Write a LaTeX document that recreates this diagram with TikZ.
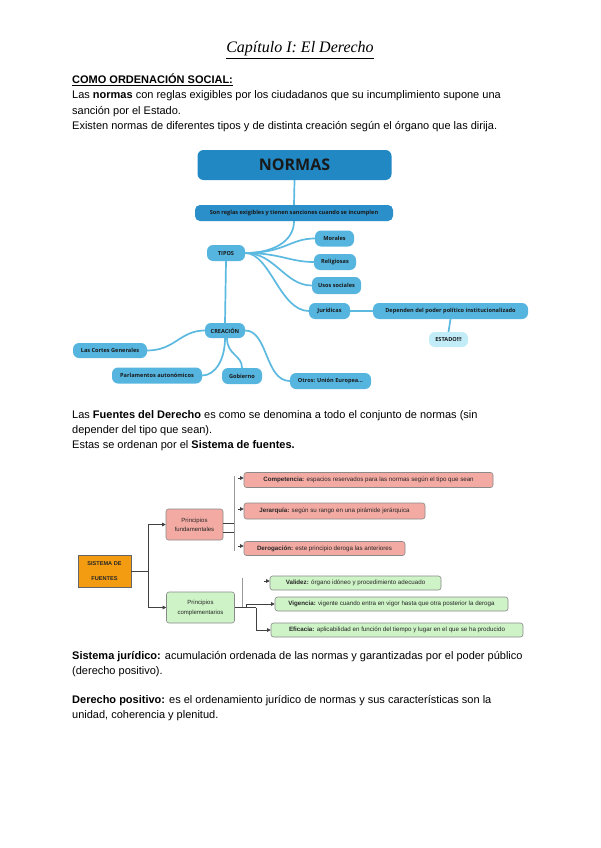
\documentclass[tikz,border=0pt]{standalone}
\usepackage{fontspec}
\setmainfont{Liberation Sans}
\newfontfamily\mmfont{Open Sans}
\newfontfamily\titlefont{Liberation Serif}
\usetikzlibrary{arrows.meta,backgrounds}
\definecolor{mdark}{HTML}{2288C4}
\definecolor{msub}{HTML}{2B8FCA}
\definecolor{mlight}{HTML}{55B5DF}
\definecolor{mpale}{HTML}{C2ECF8}
\definecolor{mline}{HTML}{5CB9E0}
\definecolor{salmon}{HTML}{F3AAA3}
\definecolor{mint}{HTML}{CDF3C6}
\definecolor{orng}{HTML}{F39C12}
\definecolor{bordgray}{HTML}{8A8A8A}
\tikzset{
  body/.style={anchor=base west, inner sep=0pt, font=\fontsize{11}{15}\selectfont},
  mmbox/.style={rounded corners=6pt, fill=mlight, inner sep=0pt, text=black!90,
    font=\mmfont\bfseries\fontsize{5.6}{6.5}\selectfont},
  conn/.style={draw=mline, line width=1.7pt, line cap=round},
  fbox/.style={rounded corners=2.5pt, draw=bordgray, line width=0.6pt, inner sep=0pt,
    font=\fontsize{6.2}{7.5}\selectfont, text=black!85},
  fline/.style={draw=black!75, line width=0.6pt},
  bline/.style={draw=black!40, line width=0.8pt},
  farrow/.style={fline, -{Triangle[length=3.5pt,width=3.5pt]}},
}
\begin{document}
\begin{tikzpicture}[x=1pt,y=-1pt]
\begin{scope}[on background layer]
\fill[white] (0,0) rectangle (600,848);
\end{scope}
\useasboundingbox (0,0) rectangle (600,848);

% ---------- Title and first text ----------
\node[anchor=base, inner sep=0pt, font=\titlefont\itshape\fontsize{16}{18}\selectfont] (title) at (300,53) {\underline{Capítulo I: El Derecho}};
\node[body] (t1) at (72,84) {\underline{\textbf{COMO ORDENACIÓN SOCIAL:}}};
\node[body] (t2) at (72,99) {Las \textbf{normas} con reglas exigibles por los ciudadanos que su incumplimiento supone una};
\node[body] (t3) at (72,114) {sanción por el Estado.};
\node[body] (t4) at (72,129) {Existen normas de diferentes tipos y de distinta creación según el órgano que las dirija.};

% ---------- Mind map ----------
\node[mmbox, fill=mdark, minimum width=194pt, minimum height=30pt, font=\mmfont\bfseries\fontsize{16}{18}\selectfont] (normas) at (294.5,165) {NORMAS};
\node[mmbox, fill=msub, rounded corners=5pt, minimum width=198pt, minimum height=16pt] (sub) at (294,213) {Son reglas exigibles y tienen sanciones cuando se incumplen};
\node[mmbox, minimum width=38pt, minimum height=16pt] (tipos) at (226,253) {TIPOS};
\node[mmbox, minimum width=39pt, minimum height=16pt] (morales) at (334.5,238.5) {Morales};
\node[mmbox, minimum width=42pt, minimum height=16pt] (relig) at (335,262) {Religiosas};
\node[mmbox, minimum width=49pt, minimum height=17pt] (usos) at (336.5,285.5) {Usos sociales};
\node[mmbox, minimum width=41pt, minimum height=16pt] (jurid) at (329.5,311) {Jurídicas};
\node[mmbox, minimum width=155pt, minimum height=16pt] (depend) at (450.5,311) {Dependen del poder político institucionalizado};
\node[mmbox, fill=mpale, minimum width=39pt, minimum height=15pt] (estado) at (448.5,339.5) {ESTADO!!!};
\node[mmbox, minimum width=40pt, minimum height=15pt] (creacion) at (225,330.5) {CREACIÓN};
\node[mmbox, minimum width=74pt, minimum height=15pt] (cortes) at (110,350.5) {Las Cortes Generales};
\node[mmbox, minimum width=90pt, minimum height=16pt] (parlam) at (157,375.5) {Parlamentos autonómicos};
\node[mmbox, minimum width=40pt, minimum height=16pt] (gobierno) at (242,376) {Gobierno};
\node[mmbox, minimum width=81pt, minimum height=16pt] (otros) at (330.5,381) {Otros: Unión Europea...};

\begin{scope}[on background layer]
\draw[conn] (normas.south) -- (sub.north);
\draw[conn] (sub.south) .. controls (294,242) and (272,253) .. (tipos.east);
\draw[conn] (tipos.east) .. controls (285,253) and (290,238.5) .. (morales.west);
\draw[conn] (tipos.east) .. controls (280,253) and (290,262) .. (relig.west);
\draw[conn] (tipos.east) .. controls (275,253) and (285,285.5) .. (usos.west);
\draw[conn] (tipos.east) .. controls (270,253) and (280,311) .. (jurid.west);
\draw[conn] (jurid.east) -- (depend.west);
\draw[conn] (depend.south) -- (estado.north);
\draw[conn] (tipos.south) -- (creacion.north);
\draw[conn] (creacion.west) .. controls (180,330.5) and (175,350.5) .. (cortes.east);
\draw[conn] (creacion.south) .. controls (225,360) and (215,375.5) .. (parlam.east);
\draw[conn] ([xshift=2pt]creacion.south) .. controls (227,355) and (242,355) .. (gobierno.north);
\draw[conn] (creacion.east) .. controls (268,330.5) and (265,381) .. (otros.west);
\end{scope}

% ---------- Second text ----------
\node[body] (t5) at (72,418) {Las \textbf{Fuentes del Derecho} es como se denomina a todo el conjunto de normas (sin};
\node[body] (t6) at (72,433) {depender del tipo que sean).};
\node[body] (t7) at (72,448) {Estas se ordenan por el \textbf{Sistema de fuentes.}};

% ---------- Sistema de fuentes ----------
\node[fbox, rounded corners=0pt, fill=orng, draw=black!60, minimum width=53pt, minimum height=32pt, align=center, font=\bfseries\fontsize{5.6}{15}\selectfont] (sist) at (104.5,571) {SISTEMA DE\\FUENTES};
\node[fbox, fill=salmon, minimum width=57pt, minimum height=31pt, align=center, font=\fontsize{6}{9}\selectfont] (fund) at (194.5,524.5) {Principios\\fundamentales};
\node[fbox, fill=mint, minimum width=68pt, minimum height=31pt, align=center, font=\fontsize{6}{10}\selectfont] (comp) at (200.5,607.5) {Principios\\complementarios};
\node[fbox, fill=salmon, minimum width=249pt, minimum height=15pt] (compet) at (368.5,480) {\textbf{Competencia:} espacios reservados para las normas según el tipo que sean};
\node[fbox, fill=salmon, minimum width=181pt, minimum height=16pt] (jerar) at (334.5,511) {\textbf{Jerarquía:} según su rango en una pirámide jerárquica};
\node[fbox, fill=salmon, minimum width=161pt, minimum height=14pt] (derog) at (324.5,548.5) {\textbf{Derogación:} este principio deroga las anteriores};
\node[fbox, fill=mint, minimum width=171pt, minimum height=14pt] (valid) at (355.5,583) {\textbf{Validez:} órgano idóneo y procedimiento adecuado};
\node[fbox, fill=mint, minimum width=233pt, minimum height=14pt] (vigen) at (391.5,604) {\textbf{Vigencia:} vigente cuando entra en vigor hasta que otra posterior la deroga};
\node[fbox, fill=mint, minimum width=252pt, minimum height=14pt] (efic) at (397,630) {\textbf{Eficacia:} aplicabilidad en función del tiempo y lugar en el que se ha producido};

\coordinate (j1) at (148,571);
\draw[fline] (sist.east) -- (j1);
\draw[farrow] (j1) |- (fund.west);
\draw[farrow] (j1) |- (comp.west);

\coordinate (bt) at (234,476);
\coordinate (bb) at (234,551);
\draw[bline] (bt) -- (bb);
\draw[fline] ([yshift=1.5pt]fund.east) -- ([yshift=1.5pt]fund.east -| bt);
\draw[fline] ([yshift=-7.5pt]fund.east) -- ([yshift=-7.5pt]fund.east -| bt);
\coordinate (a1) at (238,478);
\coordinate (a2) at (238,509);
\coordinate (a3) at (238,546);
\draw[farrow] (a1) -- (a1 -| compet.west);
\draw[farrow] (a2) -- (a2 -| jerar.west);
\draw[farrow] (a3) -- (a3 -| derog.west);

\coordinate (ct) at (242,578);
\coordinate (cb) at (242,607.5);
\draw[bline] (ct) -- (cb);
\coordinate (k1) at (246,607.5);
\coordinate (k2) at (256,607.5);
\draw[fline] (comp.east) -- (k2);
\draw[farrow] (k1) |- (vigen.west);
\draw[farrow] (k2) |- (efic.west);
\coordinate (va) at (264,581);
\draw[farrow] (va) -- (va -| valid.west);

% ---------- Final text ----------
\node[body] (t8) at (72,659) {\textbf{Sistema jurídico:} acumulación ordenada de las normas y garantizadas por el poder público};
\node[body] (t9) at (72,674) {(derecho positivo).};
\node[body] (t10) at (72,703) {\textbf{Derecho positivo:} es el ordenamiento jurídico de normas y sus características son la};
\node[body] (t11) at (72,718) {unidad, coherencia y plenitud.};
\end{tikzpicture}
\end{document}
